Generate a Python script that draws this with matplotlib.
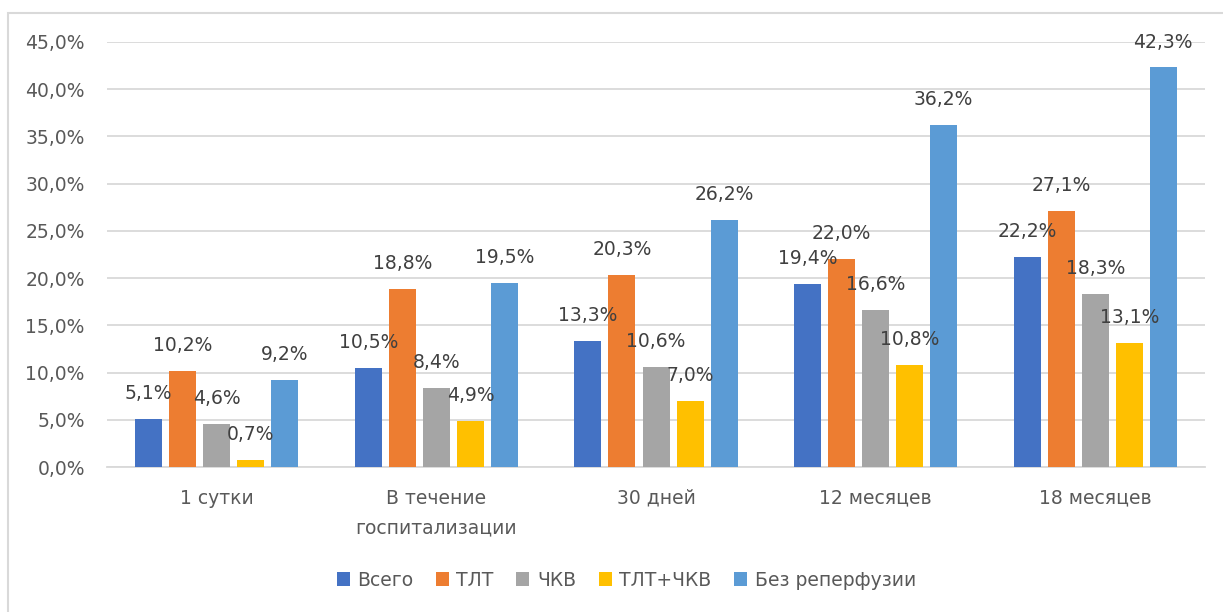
import numpy as np
import matplotlib.pyplot as plt
from matplotlib.patches import Rectangle
from matplotlib.ticker import FuncFormatter

categories = ["1 сутки", "В течение\nгоспитализации", "30 дней",
              "12 месяцев", "18 месяцев"]
series_names = ["Всего", "ТЛТ", "ЧКВ", "ТЛТ+ЧКВ", "Без реперфузии"]
vsego = [5.1, 10.5, 13.3, 19.4, 22.2]
tlt = [10.2, 18.8, 20.3, 22.0, 27.1]
chkv = [4.6, 8.4, 10.6, 16.6, 18.3]
tlt_chkv = [0.7, 4.9, 7.0, 10.8, 13.1]
bez = [9.2, 19.5, 26.2, 36.2, 42.3]
yticks = [0, 5, 10, 15, 20, 25, 30, 35, 40, 45]

colors = ["#4472C4", "#ED7D31", "#A5A5A5", "#FFC000", "#5B9BD5"]
text_grey = "#595959"
label_grey = "#404040"


def pct(v, pos=None):
    return f"{v:.1f}%".replace(".", ",")


def main():
    plt.rcParams["font.family"] = ["DejaVu Sans"]
    fig = plt.figure(figsize=(12.23, 6.12), dpi=100)
    ax = fig.add_axes([0.0875, 0.2369, 0.8978, 0.6945])

    # outer chart border
    fig.patches.append(Rectangle((7.5 / 1223, -0.01), 1.1, 1 - 12.5 / 612 + 0.01,
                                 transform=fig.transFigure, fill=False,
                                 edgecolor="#d9d9d9", linewidth=1.5))

    x = np.arange(len(categories))
    step = 0.155
    width = 0.123
    all_series = [vsego, tlt, chkv, tlt_chkv, bez]
    for i, (name, vals) in enumerate(zip(series_names, all_series)):
        pos = x + (i - 2) * step
        ax.bar(pos, vals, width, color=colors[i], label=name, zorder=3)
        for px_, v in zip(pos, vals):
            ax.annotate(pct(v), (px_, v), xytext=(0, 11.5),
                        textcoords="offset points", ha="center", va="bottom",
                        fontsize=13.5, color=label_grey, zorder=4)

    ax.set_xlim(-0.5, len(categories) - 0.5)
    ax.set_ylim(0, 45)
    ax.set_yticks(yticks)
    ax.yaxis.set_major_formatter(FuncFormatter(pct))
    ax.set_xticks(x)
    ax.set_xticklabels(categories, fontsize=13.5, color=text_grey,
                       linespacing=1.75)
    ax.tick_params(axis="y", labelsize=13.5, labelcolor=text_grey, length=0,
                   pad=16)
    ax.tick_params(axis="x", length=0, pad=15.5)
    ax.grid(axis="y", color="#d9d9d9", linewidth=1.3, zorder=0)
    for s in ["top", "right", "left"]:
        ax.spines[s].set_visible(False)
    ax.spines["bottom"].set_color("#d9d9d9")
    ax.spines["bottom"].set_linewidth(1.3)

    leg = fig.legend(loc="center", bbox_to_anchor=(0.512, 1 - 580 / 612),
                     ncol=5, frameon=False, fontsize=13.5, handlelength=0.7,
                     handleheight=0.7, handletextpad=0.4, columnspacing=1.2)
    for t in leg.get_texts():
        t.set_color(text_grey)

    fig.savefig("out.png", dpi=100)


if __name__ == "__main__":
    main()
